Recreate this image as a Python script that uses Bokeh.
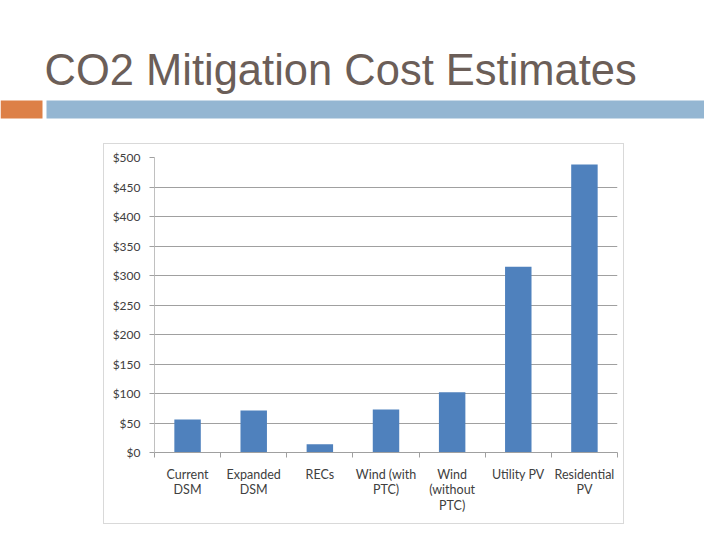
from bokeh.plotting import figure
from bokeh.layouts import column, row
from bokeh.models import Range1d, FixedTicker, Spacer
from bokeh.core.properties import value
from bokeh.embed import file_html
from bokeh.resources import INLINE

title_text = "CO2 Mitigation Cost Estimates"
categories = ["Current\nDSM", "Expanded\nDSM", "RECs", "Wind (with\nPTC)",
              "Wind\n(without\nPTC)", "Utility PV", "Residential\nPV"]
costs = [56, 71, 14, 73, 102, 315, 488]
y_ticks = [0, 50, 100, 150, 200, 250, 300, 350, 400, 450, 500]
y_tick_labels = ["$" + str(v) for v in y_ticks]

# ---- slide header ----
t = figure(width=704, height=143, x_range=Range1d(0, 704), y_range=Range1d(143, 0),
           toolbar_location=None, output_backend="svg",
           min_border_left=0, min_border_right=0, min_border_top=0, min_border_bottom=0)
t.axis.visible = False
t.grid.visible = False
t.outline_line_color = None
t.quad(left=[0], right=[42], top=[100], bottom=[118], color="#DD8047", line_color=None)
t.quad(left=[46], right=[704], top=[100], bottom=[118], color="#94B6D2", line_color=None)
t.text(x=[44], y=[69], text=[title_text], text_font=value("Liberation Sans"),
       text_font_size="43.5px", text_color="#6B5E58", text_baseline="alphabetic")

# ---- chart ----
n = len(categories)
centers = [i + 0.5 for i in range(n)]
c = figure(width=521, height=381, x_range=Range1d(0, n), y_range=Range1d(0, 500),
           toolbar_location=None, output_backend="svg",
           min_border_left=50, min_border_right=8, min_border_top=13, min_border_bottom=73)
c.styles = {"border": "1px solid #d9d9d9", "box-sizing": "border-box"}
c.outline_line_color = None
c.vbar(x=centers, top=costs, width=0.4, color="#4F81BD", line_color=None)

c.xgrid.visible = False
c.ygrid.grid_line_color = "#a0a0a0"
c.ygrid.ticker = FixedTicker(ticks=y_ticks)

ya = c.yaxis[0]
ya.ticker = FixedTicker(ticks=y_ticks)
ya.major_label_overrides = {v: l for v, l in zip(y_ticks, y_tick_labels)}
ya.axis_line_color = "#c0c0c0"
ya.major_tick_line_color = "#a0a0a0"
ya.major_tick_out = 5
ya.major_tick_in = 0
ya.minor_tick_line_color = None
ya.major_label_standoff = 9
ya.major_label_text_font = "Lato"
ya.major_label_text_font_size = "12px"
ya.major_label_text_color = "#404040"

xa = c.xaxis[0]
xa.ticker = FixedTicker(ticks=centers, minor_ticks=list(range(n + 1)))
xa.major_label_overrides = {cx: lab for cx, lab in zip(centers, categories)}
xa.axis_line_color = "#a0a0a0"
xa.major_tick_out = 0
xa.major_tick_in = 0
xa.minor_tick_out = 5
xa.minor_tick_in = 0
xa.minor_tick_line_color = "#a0a0a0"
xa.major_label_standoff = 9
xa.major_label_text_font = "Lato"
xa.major_label_text_font_size = "12.5px"
xa.major_label_text_color = "#404040"
xa.major_label_text_line_height = 1.05

layout = column(t, row(Spacer(width=103, height=381), c))

open("out.html", "w").write(file_html(layout, INLINE))
